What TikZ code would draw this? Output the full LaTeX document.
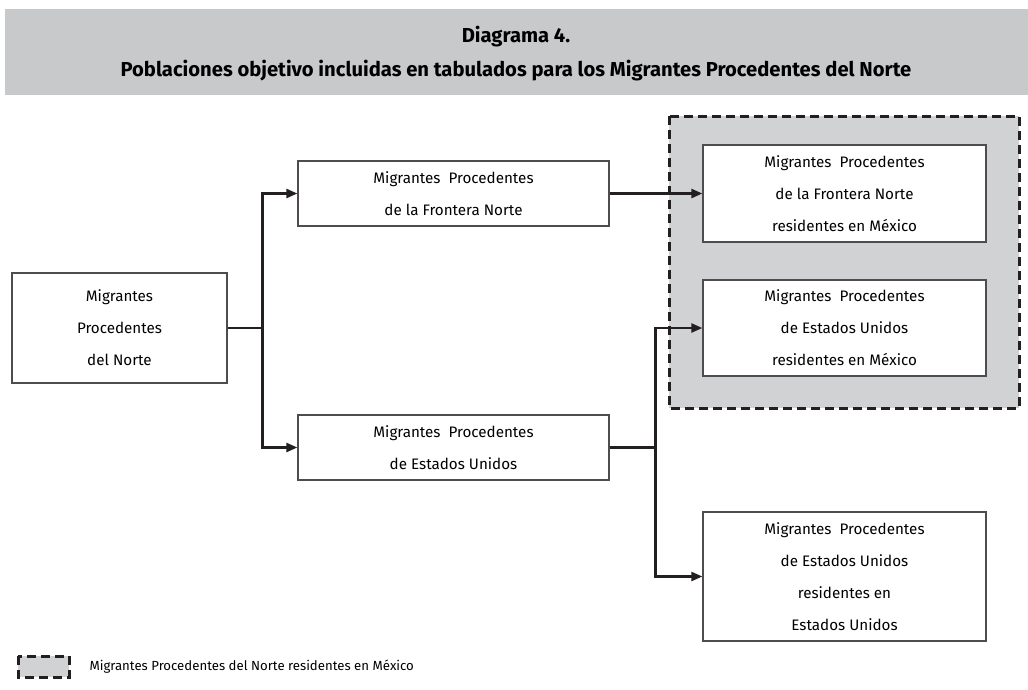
\documentclass[tikz,border=0pt]{standalone}
\usepackage{fontspec}
\setmainfont{Fira Sans}
\usepackage{tikz}
\usetikzlibrary{arrows.meta}
\definecolor{bandgray}{HTML}{C8C9CB}
\definecolor{zonegray}{HTML}{D1D2D4}
\definecolor{ink}{HTML}{231F20}

\begin{document}
\begin{tikzpicture}[x=1pt,y=-1pt,
    box/.style={draw=ink!80,line width=1.3pt,fill=white,align=center,
      inner sep=0pt,font=\fontsize{15.2}{32}\selectfont},
    link/.style={draw=ink,line width=2.4pt},
    arr/.style={link,-{Triangle[length=11pt,width=9pt]}},
    zone/.style={draw=ink,line width=3pt,dash pattern=on 9pt off 5pt,fill=zonegray}]
    \useasboundingbox (0,0) rectangle (1028,689);
    % title band
    \fill[bandgray] (5,9) rectangle (1028,95);
    \node[font=\bfseries\fontsize{20.2}{22}\selectfont] (t0) at (516,37) {Diagrama 4.};
    \node[font=\bfseries\fontsize{20.2}{22}\selectfont] (t1) at (516,71)
    {Poblaciones objetivo incluidas en tabulados para los Migrantes Procedentes del Norte};
    % residents in Mexico
    \draw[zone] (669,116) rectangle (1019,408);
    \node[box,minimum width=215pt,minimum height=110pt] (m0) at (119.5,328)
    {Migrantes\\Procedentes\\del Norte};
    \node[box,minimum width=311pt,minimum height=65pt] (m1) at (453.5,193.5)
    {Migrantes~ Procedentes\\de la Frontera Norte};
    \node[box,minimum width=311pt,minimum height=65pt] (m2) at (453.5,447.5)
    {Migrantes~ Procedentes\\de Estados Unidos};
    \node[box,minimum width=283pt,minimum height=97pt] (m3) at (844.5,193.5)
    {Migrantes~ Procedentes\\de la Frontera Norte\\residentes en México};
    \node[box,minimum width=283pt,minimum height=96pt] (m4) at (844.5,328)
    {Migrantes~ Procedentes\\de Estados Unidos\\residentes en México};
    \node[box,minimum width=283pt,minimum height=129pt] (m5) at (844.5,576.5)
    {Migrantes~ Procedentes\\de Estados Unidos\\residentes en\\Estados Unidos};
    \draw[link] (m0.east) -- ++(35,0) coordinate (j0);
    \draw[arr] (j0) |- (m1.west); \draw[arr] (j0) |- (m2.west);
    \draw[arr] (m1.east) -- (m3.west);
    \draw[link] (m2.east) -- ++(46,0) coordinate (j1);
    \draw[arr] (j1) |- (m4.west); \draw[arr] (j1) |- (m5.west);
    % legend
    \draw[zone] (18,656) rectangle (69,677);
    \node[anchor=west,font=\fontsize{13.2}{16}\selectfont] (l0) at (86,667)
    {Migrantes Procedentes del Norte residentes en México};
\end{tikzpicture}
\end{document}
